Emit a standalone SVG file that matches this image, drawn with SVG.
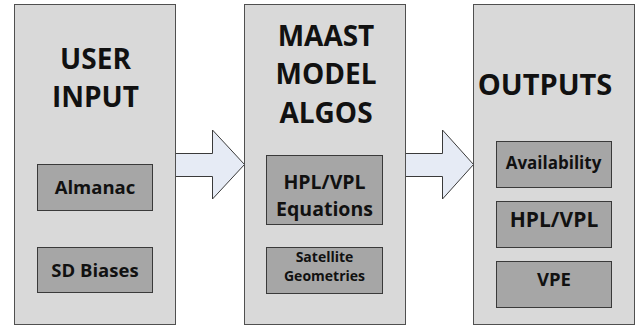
<svg xmlns="http://www.w3.org/2000/svg" width="636" height="326" viewBox="0 0 636 326">
<style>
.outer{fill:#d9d9d9;stroke:#505050;stroke-width:1}
.inner{fill:#a6a6a6;stroke:#3a3a3a;stroke-width:1}
.arrow{fill:#e6ebf5;stroke:#3a3a3a;stroke-width:1}
text{font-family:"Open Sans","Liberation Sans",sans-serif;font-weight:bold;fill:#111;text-anchor:middle}
.h{font-size:28px}
.l{font-size:18.5px}
.s{font-size:14px}
</style>
<rect width="636" height="326" fill="#fff"/>
<g id="connectors">
<polygon class="arrow" points="175.5,153.5 212.5,153.5 212.5,130 244.5,164.5 212.5,199 212.5,176.5 175.5,176.5"/>
<polygon class="arrow" points="405.5,153.5 442.5,153.5 442.5,130 473.5,164.5 442.5,199 442.5,176.5 405.5,176.5"/>
</g>
<g id="user-input">
<rect class="outer" x="14.5" y="4.5" width="161" height="320"/>
<text class="h" x="95.5" y="68.5">USER</text>
<text class="h" x="95.5" y="106.7">INPUT</text>
<g id="almanac"><rect class="inner" x="37.5" y="164.5" width="115" height="46"/><text class="l" x="95" y="194.3">Almanac</text></g>
<g id="sd-biases"><rect class="inner" x="37.5" y="247.5" width="115" height="45"/><text class="l" x="95" y="277">SD Biases</text></g>
</g>
<g id="maast">
<rect class="outer" x="244.5" y="4.5" width="161" height="320"/>
<text class="h" x="326" y="46">MAAST</text>
<text class="h" x="326" y="84.3">MODEL</text>
<text class="h" x="326" y="123.3">ALGOS</text>
<g id="hpl-vpl-eq"><rect class="inner" x="266.5" y="155.5" width="116" height="69"/><text x="324.5" y="189.3" style="font-size:19.5px">HPL/VPL</text><text x="324.5" y="216" style="font-size:19.5px">Equations</text></g>
<g id="sat-geo"><rect class="inner" x="266.5" y="247.5" width="116" height="46"/><text class="s" x="324.5" y="261.5">Satellite</text><text class="s" x="324.5" y="280.8">Geometries</text></g>
</g>
<g id="outputs">
<rect class="outer" x="473.5" y="4.5" width="161" height="320"/>
<text x="545" y="95" style="font-size:29px">OUTPUTS</text>
<g id="availability"><rect class="inner" x="496.5" y="141.5" width="115" height="46"/><text x="553.5" y="169.3" style="font-size:17px">Availability</text></g>
<g id="hpl-vpl"><rect class="inner" x="496.5" y="201.5" width="115" height="46"/><text x="554" y="226.5" style="font-size:21px">HPL/VPL</text></g>
<g id="vpe"><rect class="inner" x="496.5" y="261.5" width="115" height="46"/><text class="l" x="554" y="285.5">VPE</text></g>
</g>
</svg>
